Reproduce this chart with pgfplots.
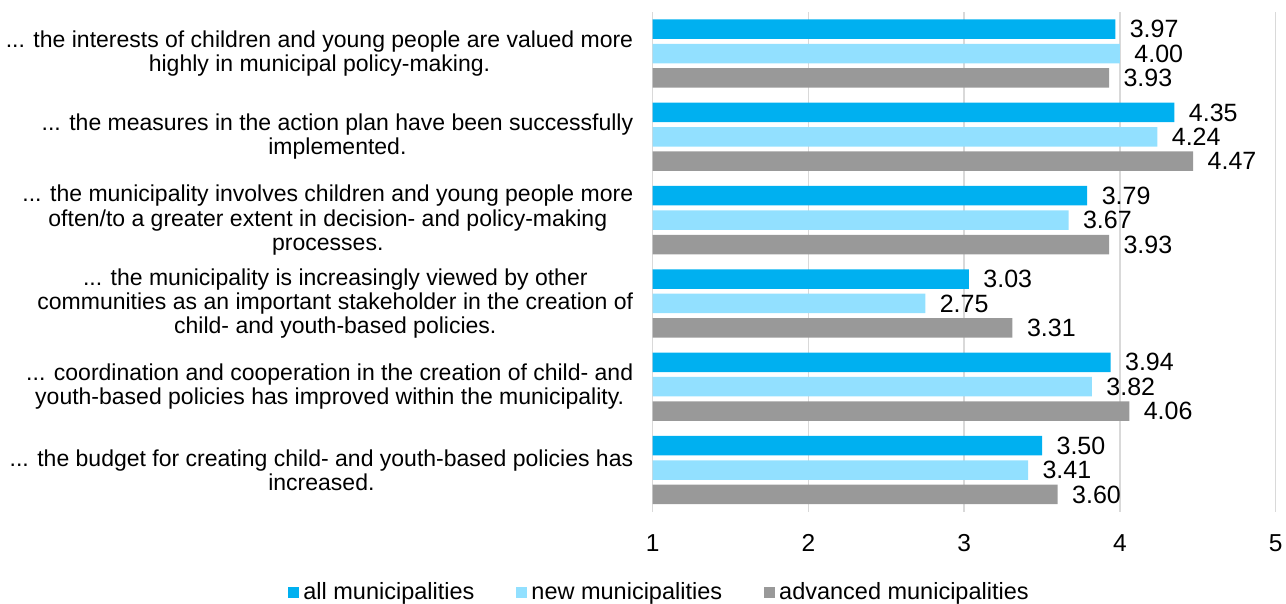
\documentclass[border=0pt]{standalone}
\usepackage{pgfplots}
\pgfplotsset{compat=1.18}
\usepackage{fontspec}
\setmainfont{Liberation Sans}
\definecolor{allc}{RGB}{0,176,240}
\definecolor{newc}{RGB}{146,224,255}
\definecolor{advc}{RGB}{153,153,153}
\definecolor{gridc}{RGB}{217,217,217}
\newcommand\ddd{...}
\begin{document}
\begin{tikzpicture}
\path[use as bounding box] (0,0) rectangle (1286pt,604pt);
\begin{axis}[
  at={(652.7pt,92.3pt)}, anchor=south west,
  scale only axis, width=623pt, height=499.8pt,
  xbar, xmin=1, xmax=5, ymin=-0.5, ymax=5.5,
  bar width=19.5pt,
  axis line style={draw=none},
  major tick length=0pt,
  xmajorgrids, grid style={gridc, line width=1.5pt},
  xtick={1,2,3,4,5}, ytick={0,1,2,3,4,5},
  /pgf/number format/assume math mode=true,
  yticklabels={
    {\ddd{} the budget for creating child- and youth-based policies has\\increased.},
    {\ddd{} coordination and cooperation in the creation of child- and\\youth-based policies has improved within the municipality.},
    {\ddd{} the municipality is increasingly viewed by other\\communities as an important stakeholder in the creation of\\child- and youth-based policies.},
    {\ddd{} the municipality involves children and young people more\\often/to a greater extent in decision- and policy-making\\processes.},
    {\ddd{} the measures in the action plan have been successfully\\implemented.},
    {\ddd{} the interests of children and young people are valued more\\highly in municipal policy-making.}
  },
  yticklabel style={align=center, font=\fontsize{23}{24.3}\selectfont, xshift=-16pt},
  xticklabel style={font=\fontsize{24.5}{28}\selectfont, yshift=-19pt},
  point meta=x,
  nodes near coords={\pgfmathprintnumber[fixed,fixed zerofill,precision=2,assume math mode=true]{\pgfplotspointmeta}},
  nodes near coords style={font=\fontsize{25}{29}\selectfont, anchor=west, xshift=11pt, text=black},
  legend style={at={(0.011,-0.161)}, anchor=center, legend columns=-1, draw=none,
    font=\fontsize{23.5}{27}\selectfont,
    /tikz/every even column/.append style={column sep=40pt}},
  legend image code/.code={\fill[#1] (0pt,-5.5pt) rectangle (11pt,5.5pt); \path (13pt,0pt);},
]
\addplot[fill=allc, draw=none, bar shift=24.4pt] coordinates {(3.50,0) (3.94,1) (3.03,2) (3.79,3) (4.35,4) (3.97,5)};
\addplot[fill=newc, draw=none, bar shift=0pt] coordinates {(3.41,0) (3.82,1) (2.75,2) (3.67,3) (4.24,4) (4.00,5)};
\addplot[fill=advc, draw=none, bar shift=-24.4pt] coordinates {(3.60,0) (4.06,1) (3.31,2) (3.93,3) (4.47,4) (3.93,5)};
\legend{all municipalities, new municipalities, advanced municipalities}
\end{axis}
\end{tikzpicture}
\end{document}
